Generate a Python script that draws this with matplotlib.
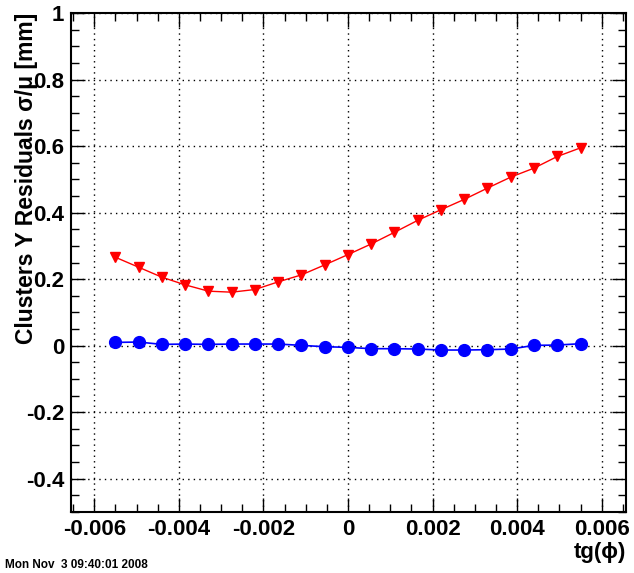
import numpy as np
import matplotlib
matplotlib.use("Agg")
import matplotlib.pyplot as plt
from matplotlib.ticker import MultipleLocator, FuncFormatter

plt.rcParams["font.family"] = ["Liberation Sans", "DejaVu Sans"]
plt.rcParams["font.weight"] = "bold"

# ---------------------------------------------------------------- data
tg_phi = [-0.0055, -0.00495, -0.0044, -0.00385, -0.0033, -0.00275, -0.0022,
          -0.00165, -0.0011, -0.00055, 0.0, 0.00055, 0.0011, 0.00165,
          0.0022, 0.00275, 0.0033, 0.00385, 0.0044, 0.00495, 0.0055]
sigma_res = [0.266, 0.236, 0.206, 0.183, 0.164, 0.161, 0.169, 0.192, 0.213,
             0.243, 0.274, 0.306, 0.341, 0.377, 0.409, 0.440, 0.474, 0.507,
             0.534, 0.569, 0.595]
mean_res = [0.010, 0.011, 0.004, 0.005, 0.004, 0.005, 0.005, 0.005, 0.001,
            -0.003, -0.005, -0.009, -0.009, -0.010, -0.013, -0.013, -0.012,
            -0.010, 0.001, 0.002, 0.006]

x_ticks = [-0.006, -0.004, -0.002, 0.0, 0.002, 0.004, 0.006]
y_ticks = [-0.4, -0.2, 0.0, 0.2, 0.4, 0.6, 0.8, 1.0]

# ---------------------------------------------------------------- figure
fig = plt.figure(figsize=(6.34, 5.73), dpi=100)
ax = fig.add_axes([0.112, 0.1065, 0.875, 0.8705])

ax.plot(tg_phi, sigma_res, color="red", lw=1.0, marker="v", ms=6.5,
        mec="red", mfc="red", zorder=3)
ax.plot(tg_phi, mean_res, color="blue", lw=1.2, marker="o", ms=8.5,
        mec="blue", mfc="blue", zorder=3)

ax.set_xlim(-0.00655, 0.00657)
ax.set_ylim(-0.5, 1.0)
ax.set_xticks(x_ticks)
ax.set_yticks(y_ticks)
ax.xaxis.set_minor_locator(MultipleLocator(0.0005))
ax.yaxis.set_minor_locator(MultipleLocator(0.05))


def _fmt(v, _pos):
    if abs(v) < 1e-12:
        return "0"
    return f"{v:g}"


ax.xaxis.set_major_formatter(FuncFormatter(_fmt))
ax.yaxis.set_major_formatter(FuncFormatter(_fmt))

ax.tick_params(which="both", direction="in", top=True, right=True,
               width=1.0, colors="black", labelsize=16)
ax.tick_params(which="major", length=10)
ax.tick_params(which="minor", length=5.5)
ax.tick_params(axis="x", pad=5)
ax.tick_params(axis="y", pad=5)
for lab in ax.get_xticklabels() + ax.get_yticklabels():
    lab.set_fontweight("bold")

for sp in ax.spines.values():
    sp.set_linewidth(1.5)

ax.grid(True, which="major", color="black", ls=(0, (1, 3)), lw=1.0)

# ROOT-style titles: y title right-aligned at the top, x title at the right
fig.text(0.042, 0.977, "Clusters Y Residuals σ/μ [mm]", rotation=90,
         ha="center", va="top", fontsize=16.5, fontweight="bold")
fig.text(0.987, 0.018, "tg(ϕ)", ha="right", va="bottom",
         fontsize=16, fontweight="bold")
fig.text(0.008, 0.003, "Mon Nov  3 09:40:01 2008", ha="left", va="bottom",
         fontsize=8.5, fontweight="bold")

fig.savefig("out.png", dpi=100)
